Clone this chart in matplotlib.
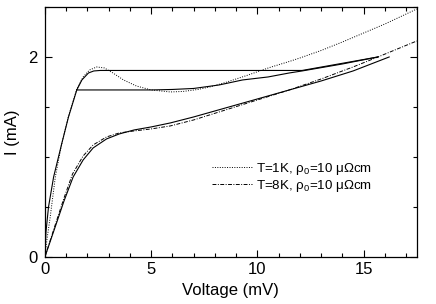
import numpy as np
import matplotlib
matplotlib.use("Agg")
import matplotlib.pyplot as plt
from matplotlib.ticker import MultipleLocator

plt.rcParams['font.family'] = ['Liberation Sans', 'DejaVu Sans']
plt.rcParams['mathtext.default'] = 'regular'

# upper solid loop, upward sweep
up_v = [0, 0.05, 0.17, 0.41, 0.8, 1.11, 1.5, 1.74, 2.05, 2.3, 2.6, 12.1, 15.67]
up_i = [0, 0.25, 0.5, 0.8, 1.14, 1.40, 1.67, 1.77, 1.84, 1.86, 1.865, 1.865, 2.0]
# upper solid loop, return sweep
down_v = [15.67, 14.0, 12.1, 11.5, 10.5, 9.3, 8.2, 7.0, 6.0, 5.0, 3.5, 1.5]
down_i = [2.0, 1.93, 1.86, 1.84, 1.80, 1.77, 1.72, 1.685, 1.675, 1.67, 1.67, 1.67]

# lower solid curve
low_v = [0, 0.5, 0.9, 1.33, 1.8, 2.27, 2.9, 3.5, 4.2, 5.0, 5.9, 7.0, 8.5, 10.0, 11.5, 13.0, 14.5, 16.2]
low_i = [0, 0.31, 0.56, 0.80, 0.97, 1.09, 1.18, 1.23, 1.27, 1.30, 1.34, 1.40, 1.49, 1.58, 1.67, 1.76, 1.86, 2.0]

# T=1K
t1_v = [0, 0.1, 0.25, 0.49, 0.78, 1.1, 1.5, 1.8, 2.1, 2.44, 2.8, 3.2, 3.7, 4.3, 5.0, 5.9, 6.5, 7.2,
        7.76, 8.5, 9.5, 10.58, 11.5, 12.0, 13.0, 14.0, 15.0, 16.0, 17.5]
t1_i = [0, 0.18, 0.40, 0.80, 1.12, 1.40, 1.68, 1.80, 1.87, 1.90, 1.89, 1.84, 1.77, 1.71, 1.67, 1.65,
        1.655, 1.675, 1.70, 1.745, 1.815, 1.895, 1.955, 1.99, 2.065, 2.15, 2.24, 2.33, 2.48]

# T=8K
t8_v = [0, 0.5, 0.9, 1.3, 1.8, 2.27, 2.9, 3.5, 4.2, 5.0, 5.9, 7.0, 8.5, 10.0, 11.5, 13.0, 14.5, 15.67, 17.5]
t8_i = [0, 0.33, 0.59, 0.83, 1.01, 1.12, 1.20, 1.24, 1.26, 1.28, 1.31, 1.37, 1.47, 1.57, 1.67, 1.78,
        1.90, 2.0, 2.16]

labels = ['T=1K, ρ$_0$=10 μΩcm', 'T=8K, ρ$_0$=10 μΩcm']

fig = plt.figure(figsize=(4.36, 3.04), dpi=100)
ax = fig.add_axes([0.103, 0.155, 0.853, 0.822])

ax.plot(up_v, up_i, color='black', lw=0.8)
ax.plot(down_v, down_i, color='black', lw=0.8)
ax.plot(low_v, low_i, color='black', lw=0.8)
ax.plot(t1_v, t1_i, color='black', lw=0.7, ls=(0, (1, 1.5)), label=labels[0])
ax.plot(t8_v, t8_i, color='black', lw=0.7, ls=(0, (4, 1.5, 1, 1.5)), label=labels[1])

ax.set_xlim(0, 17.5)
ax.set_ylim(0, 2.5)
ax.xaxis.set_major_locator(MultipleLocator(5))
ax.xaxis.set_minor_locator(MultipleLocator(1))
ax.yaxis.set_major_locator(MultipleLocator(2))
ax.yaxis.set_minor_locator(MultipleLocator(0.5))
ax.tick_params(which='both', direction='in', top=True, right=True, labelsize=12, width=0.8)
ax.tick_params(which='major', length=5)
ax.tick_params(which='minor', length=3)
ax.tick_params(axis='x', which='major', pad=4)
ax.tick_params(axis='y', which='major', pad=5)
for s in ax.spines.values():
    s.set_linewidth(0.9)

ax.set_xlabel('Voltage (mV)', fontsize=12, labelpad=4)
ax.set_ylabel('I (mA)', fontsize=12, labelpad=6)

ax.legend(loc='upper left', bbox_to_anchor=(0.449, 0.385), frameon=False, fontsize=9.6,
          handlelength=3.0, handletextpad=0.3, labelspacing=0.1, borderpad=0, borderaxespad=0)

fig.savefig('out.png', dpi=100)
